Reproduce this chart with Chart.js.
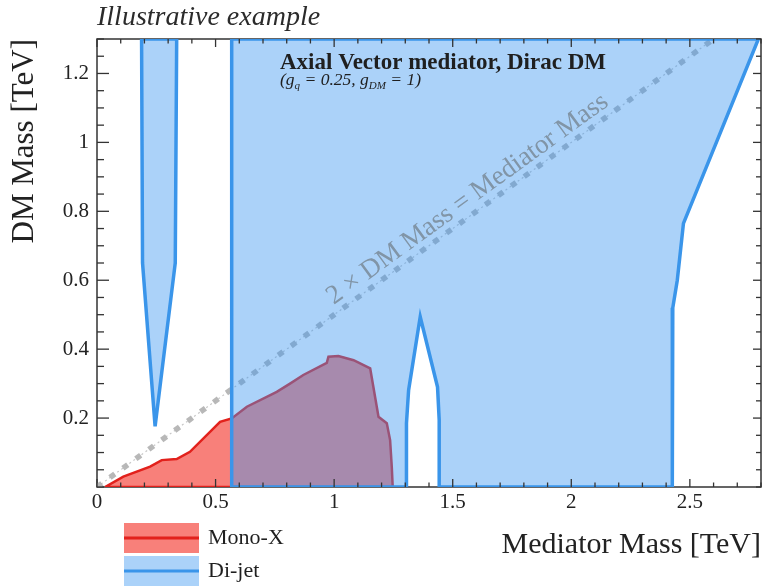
<!DOCTYPE html>
<html>
<head>
<meta charset="utf-8">
<script src="https://cdn.jsdelivr.net/npm/chart.js@4.4.1/dist/chart.umd.min.js"></script>
<style>
  html, body { margin: 0; padding: 0; background: #fff; }
</style>
</head>
<body>
<canvas id="chart" width="770" height="588"></canvas>
<script>
// Mono-X exclusion contour: mediator mass / DM mass in TeV
const monoXMed = [0.034, 0.111, 0.224, 0.273, 0.336, 0.392, 0.519, 0.568, 0.632, 0.758, 0.814, 0.870, 0.969, 0.976, 1.018, 1.082, 1.152, 1.187, 1.222, 1.236, 1.243, 1.247, 0.034];
const monoXDM  = [0, 0.030, 0.059, 0.078, 0.081, 0.102, 0.189, 0.199, 0.233, 0.276, 0.300, 0.325, 0.360, 0.378, 0.380, 0.368, 0.344, 0.204, 0.185, 0.136, 0.059, 0, 0];

// Di-jet, narrow low-mass region
const dijetLowMed = [0.188, 0.192, 0.245, 0.330, 0.336, 0.188];
const dijetLowDM  = [1.3, 0.65, 0.176, 0.65, 1.3, 1.3];

// Di-jet, main region (notch around 1.35 TeV)
const dijetMainMed = [0.568, 0.568, 2.789, 2.473, 2.447, 2.428, 2.426, 1.443, 1.443, 1.436, 1.363, 1.314, 1.305, 1.305, 0.568];
const dijetMainDM  = [0, 1.3, 1.3, 0.765, 0.60, 0.52, 0, 0, 0.194, 0.290, 0.494, 0.281, 0.185, 0, 0];

// 2 x DM mass = mediator mass
const diagMed = [0, 2.6];
const diagDM  = [0, 1.3];

const xTicks = [0, 0.5, 1, 1.5, 2, 2.5];
const yTicks = [0.2, 0.4, 0.6, 0.8, 1, 1.2];
const xMinorStep = 0.1;
const yMinorStep = 0.05;

const serif = "'Liberation Serif', 'DejaVu Serif', serif";
const redFill = 'rgba(245,60,50,0.65)';
const redLine = '#e2211c';
const blueFill = 'rgba(60,150,240,0.43)';
const blueLine = '#3a95ea';

function toPoints(xs, ys) {
    return xs.map((x, i) => ({ x: x, y: ys[i] }));
}

function fmt(v) {
    return String(Math.round(v * 100) / 100);
}

// frame under the datasets, inward ticks on top of them
const frameAndTicks = {
    id: 'frameAndTicks',
    beforeDatasetsDraw(chart) {
        const { ctx, chartArea: a } = chart;
        ctx.save();
        ctx.strokeStyle = '#333';
        ctx.lineWidth = 1.5;
        ctx.strokeRect(a.left, a.top, a.right - a.left, a.bottom - a.top);
        ctx.restore();
    },
    afterDatasetsDraw(chart) {
        const { ctx, chartArea: a, scales: { x, y } } = chart;
        ctx.save();
        ctx.strokeStyle = '#333';
        ctx.lineWidth = 1.3;
        const line = (x0, y0, x1, y1) => {
            ctx.beginPath();
            ctx.moveTo(x0, y0);
            ctx.lineTo(x1, y1);
            ctx.stroke();
        };
        for (let i = 0; i * xMinorStep <= x.max + 1e-9; i++) {
            const v = i * xMinorStep;
            const major = xTicks.some(t => Math.abs(t - v) < 1e-6);
            const len = major ? 8 : 4.5;
            const px = x.getPixelForValue(v);
            line(px, a.bottom, px, a.bottom - len);
            line(px, a.top, px, a.top + len);
        }
        for (let i = 0; i * yMinorStep <= y.max + 1e-9; i++) {
            const v = i * yMinorStep;
            const major = yTicks.some(t => Math.abs(t - v) < 1e-6);
            const py = y.getPixelForValue(v);
            line(a.left, py, a.left + (major ? 12 : 7), py);
            line(a.right, py, a.right - (major ? 8 : 5), py);
        }
        ctx.restore();
    },
    afterDraw(chart) {
        const { ctx, chartArea: a, scales: { x, y } } = chart;
        ctx.save();

        // header
        ctx.fillStyle = '#2b2b2b';
        ctx.textBaseline = 'alphabetic';
        ctx.textAlign = 'left';
        ctx.font = 'italic 28px ' + serif;
        ctx.fillText('Illustrative example', a.left, 25);

        ctx.fillStyle = '#1f1f1f';
        ctx.font = 'bold 23px ' + serif;
        ctx.fillText('Axial Vector mediator, Dirac DM', 280, 69);

        // (g_q = 0.25, g_DM = 1)
        let cx = 280;
        const base = 85;
        const part = (txt, size, dy) => {
            ctx.font = 'italic ' + size + 'px ' + serif;
            ctx.fillText(txt, cx, base + dy);
            cx += ctx.measureText(txt).width;
        };
        part('(g', 17.5, 0);
        part('q', 11, 4);
        part(' = 0.25, g', 17.5, 0);
        part('DM', 11, 4);
        part(' = 1)', 17.5, 0);

        // label along the diagonal
        const x0 = x.getPixelForValue(diagMed[0]), y0 = y.getPixelForValue(diagDM[0]);
        const x1 = x.getPixelForValue(diagMed[1]), y1 = y.getPixelForValue(diagDM[1]);
        const ang = Math.atan2(y1 - y0, x1 - x0);
        ctx.translate(x.getPixelForValue(1.6), y.getPixelForValue(0.8));
        ctx.rotate(ang);
        ctx.font = '27px ' + serif;
        ctx.fillStyle = '#8195a7';
        ctx.textAlign = 'center';
        ctx.textBaseline = 'middle';
        ctx.fillText('2 \u00d7 DM Mass = Mediator Mass', 0, -15);
        ctx.setTransform(1, 0, 0, 1, 0, 0);

        // legend
        const items = [
            { label: 'Mono-X', fill: redFill, stroke: redLine, top: 523 },
            { label: 'Di-jet', fill: blueFill, stroke: blueLine, top: 556 }
        ];
        items.forEach(it => {
            ctx.fillStyle = it.fill;
            ctx.fillRect(124, it.top, 75, 30);
            ctx.strokeStyle = it.stroke;
            ctx.lineWidth = 3;
            ctx.beginPath();
            ctx.moveTo(124, it.top + 15);
            ctx.lineTo(199, it.top + 15);
            ctx.stroke();
            ctx.fillStyle = '#1f1f1f';
            ctx.font = '22px ' + serif;
            ctx.textAlign = 'left';
            ctx.textBaseline = 'middle';
            ctx.fillText(it.label, 208, it.top + 15);
        });

        ctx.restore();
    }
};

const regionStyle = {
    type: 'line',
    fill: 'shape',
    pointRadius: 0,
    tension: 0
};

new Chart(document.getElementById('chart'), {
    type: 'line',
    data: {
        datasets: [
            Object.assign({}, regionStyle, {
                label: 'Di-jet',
                data: toPoints(dijetMainMed, dijetMainDM),
                borderColor: blueLine,
                backgroundColor: blueFill,
                borderWidth: 3.5,
                order: 0
            }),
            Object.assign({}, regionStyle, {
                label: 'Di-jet low',
                data: toPoints(dijetLowMed, dijetLowDM),
                borderColor: blueLine,
                backgroundColor: blueFill,
                borderWidth: 3.5,
                order: 0
            }),
            Object.assign({}, regionStyle, {
                label: 'Mono-X',
                data: toPoints(monoXMed, monoXDM),
                borderColor: redLine,
                backgroundColor: redFill,
                borderWidth: 2.5,
                order: 1
            }),
            {
                label: 'diag thick',
                data: toPoints(diagMed, diagDM),
                borderColor: 'rgba(180,180,180,0.95)',
                borderWidth: 5.5,
                borderDash: [6, 10],
                pointRadius: 0,
                fill: false,
                order: 2
            },
            {
                label: 'diag thin',
                data: toPoints(diagMed, diagDM),
                borderColor: 'rgba(185,185,185,0.8)',
                borderWidth: 1.2,
                borderDash: [2, 3],
                pointRadius: 0,
                fill: false,
                order: 2
            }
        ]
    },
    options: {
        responsive: false,
        animation: false,
        devicePixelRatio: 1,
        layout: { padding: { top: 39, right: 9, left: 0, bottom: 0 } },
        plugins: {
            legend: { display: false },
            tooltip: { enabled: false }
        },
        scales: {
            x: {
                type: 'linear',
                min: 0,
                max: 2.8,
                afterBuildTicks: s => { s.ticks = xTicks.map(v => ({ value: v })); },
                afterFit: s => { s.height = 101; },
                grid: { display: false, drawTicks: false },
                border: { display: false },
                ticks: {
                    padding: 3,
                    color: '#222',
                    autoSkip: false,
                    maxRotation: 0,
                    font: { family: serif, size: 21 },
                    callback: v => fmt(v)
                },
                title: {
                    display: true,
                    text: 'Mediator Mass [TeV]',
                    align: 'end',
                    color: '#222',
                    font: { family: serif, size: 30 },
                    padding: { top: 0, bottom: 25 }
                }
            },
            y: {
                type: 'linear',
                min: 0,
                max: 1.3,
                afterBuildTicks: s => { s.ticks = yTicks.map(v => ({ value: v })); },
                afterFit: s => { s.width = 97; },
                grid: { display: false, drawTicks: false },
                border: { display: false },
                ticks: {
                    padding: 8,
                    color: '#222',
                    autoSkip: false,
                    font: { family: serif, size: 21 },
                    callback: v => fmt(v)
                },
                title: {
                    display: true,
                    text: 'DM Mass [TeV]',
                    align: 'end',
                    color: '#222',
                    font: { family: serif, size: 31 },
                    padding: { top: 6, bottom: 0 }
                }
            }
        }
    },
    plugins: [frameAndTicks]
});
</script>
</body>
</html>
